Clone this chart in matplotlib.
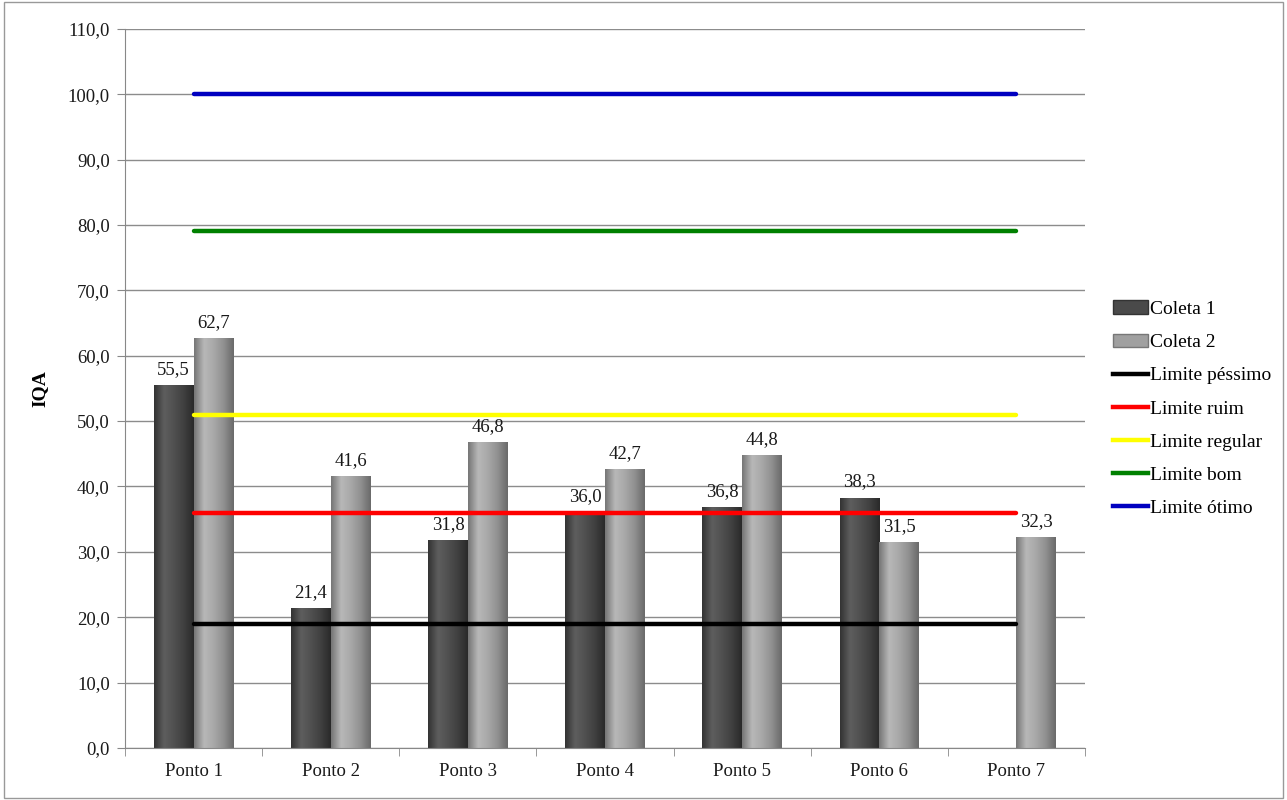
import matplotlib.pyplot as plt
import numpy as np
from matplotlib.ticker import FuncFormatter, FixedLocator
from matplotlib.patches import Patch
from matplotlib.lines import Line2D
from matplotlib.colors import LinearSegmentedColormap

plt.rcParams['font.family'] = ['Liberation Serif', 'DejaVu Serif']

pontos = ["Ponto 1", "Ponto 2", "Ponto 3", "Ponto 4", "Ponto 5", "Ponto 6", "Ponto 7"]
coleta1 = [55.5, 21.4, 31.8, 36.0, 36.8, 38.3, np.nan]
coleta2 = [62.7, 41.6, 46.8, 42.7, 44.8, 31.5, 32.3]

limites = ["Limite péssimo", "Limite ruim", "Limite regular", "Limite bom", "Limite ótimo"]
limite_vals = [19, 36, 51, 79, 100]
limite_cores = ["#000000", "#ff0000", "#ffff00", "#008000", "#0000c0"]

fig = plt.figure(figsize=(12.87, 8), dpi=100)
ax = fig.add_axes([0.0971, 0.065, 0.746, 0.899])

x = np.arange(len(pontos))
w = 0.29

cmap1 = LinearSegmentedColormap.from_list("c1", ["#333333", "#5e5e5e", "#505050", "#404040", "#2a2a2a"])
cmap2 = LinearSegmentedColormap.from_list("c2", ["#767676", "#b8b8b8", "#a8a8a8", "#909090", "#6a6a6a"])
grad = np.linspace(0, 1, 64).reshape(1, -1)


def gradient_bars(bars, cmap):
    for b in bars:
        if np.isnan(b.get_height()):
            continue
        x0, y0 = b.get_x(), b.get_y()
        bw, bh = b.get_width(), b.get_height()
        b.set_facecolor("none")
        im = ax.imshow(grad, cmap=cmap, aspect="auto", extent=[x0, x0 + bw, y0, y0 + bh],
                       zorder=2, interpolation="bicubic")
        im.set_clip_path(b)


b1 = ax.bar(x - w / 2, coleta1, w, color="#444444", zorder=2, linewidth=0)
b2 = ax.bar(x + w / 2, coleta2, w, color="#9a9a9a", zorder=2, linewidth=0)
gradient_bars(b1, cmap1)
gradient_bars(b2, cmap2)

for vals, off in [(coleta1, -w / 2), (coleta2, w / 2)]:
    for xi, v in zip(x, vals):
        if np.isnan(v):
            continue
        ax.text(xi + off, v + 1.1, f"{v:.1f}".replace(".", ","), ha="center", va="bottom",
                fontsize=13.5, color="#1a1a1a", zorder=5)

for val, cor in zip(limite_vals, limite_cores):
    ax.plot([x[0], x[-1]], [val, val], color=cor, linewidth=3.2, zorder=4,
            solid_capstyle="round")

ax.set_xlim(-0.5, len(pontos) - 0.5)
ax.set_ylim(0, 110)
ax.set_yticks(np.arange(0, 111, 10))
ax.yaxis.set_major_formatter(FuncFormatter(lambda v, p: f"{v:.1f}".replace(".", ",")))
ax.set_xticks(x)
ax.set_xticklabels(pontos)
ax.xaxis.set_minor_locator(FixedLocator(np.arange(-0.5, len(pontos), 1)))
ax.tick_params(axis="x", which="major", length=0, pad=11, labelsize=13.5, labelcolor="#1a1a1a")
ax.tick_params(axis="x", which="minor", length=6, color="#888888")
ax.tick_params(axis="y", length=6, color="#888888", labelsize=13.5, pad=5, labelcolor="#1a1a1a")

ax.grid(axis="y", color="#8c8c8c", linewidth=1.0, zorder=0)
ax.set_axisbelow(True)
for s in ["top", "right"]:
    ax.spines[s].set_visible(False)
ax.spines["left"].set_color("#888888")
ax.spines["bottom"].set_color("#888888")

ax.set_ylabel("IQA", fontsize=14, fontweight="bold", labelpad=14)

handles = [Patch(facecolor="#4a4a4a", edgecolor="#333333", label="Coleta 1"),
           Patch(facecolor="#a0a0a0", edgecolor="#777777", label="Coleta 2")]
for nome, cor in zip(limites, limite_cores):
    handles.append(Line2D([0], [0], color=cor, linewidth=3.2, label=nome))
fig.legend(handles=handles, loc="center left", bbox_to_anchor=(0.859, 0.489), frameon=False,
           fontsize=14, handlelength=1.8, handletextpad=0.1, labelspacing=0.8,
           borderaxespad=0)

fig.add_artist(plt.Rectangle((0.003, 0.003), 0.994, 0.994, transform=fig.transFigure,
                             fill=False, edgecolor="#999999", linewidth=1))

plt.savefig("out.png", dpi=100)
